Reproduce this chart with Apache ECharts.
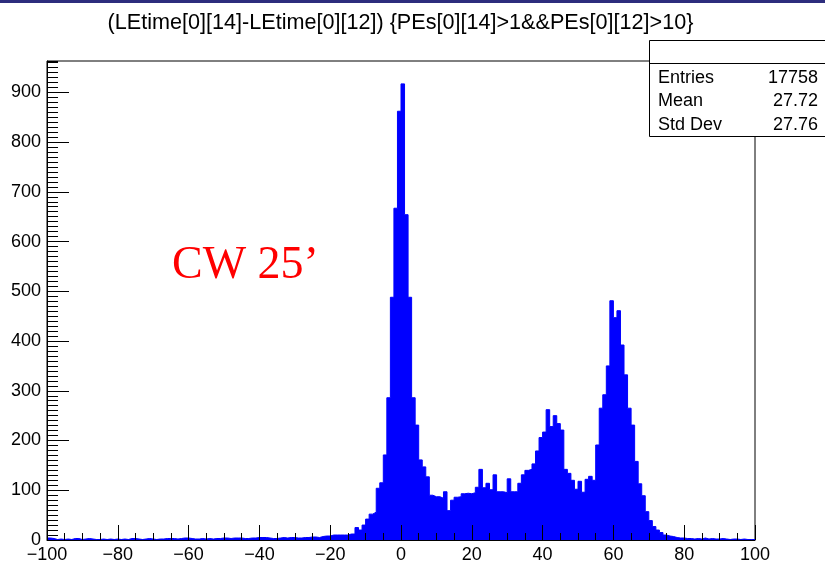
<!DOCTYPE html>
<html>
<head>
<meta charset="utf-8">
<script src="https://cdn.jsdelivr.net/npm/echarts@6/dist/echarts.min.js"></script>
<style>
  html, body { margin: 0; padding: 0; background: #fff; }
  #chart { width: 825px; height: 561px; }
</style>
</head>
<body>
<div id="chart"></div>
<script>
// Histogram of LEtime[0][14]-LEtime[0][12], 1-unit bins from -100 to 100
const histTitle = '(LEtime[0][14]-LEtime[0][12]) {PEs[0][14]>1&&PEs[0][12]>10}';
const binLow = -100;
const binWidth = 1;
const counts = [
  // -100 .. -51
  4, 3, 1, 2, 1, 2, 1, 3, 3, 1,
  2, 3, 2, 1, 1, 2, 1, 2, 1, 2,
  1, 2, 1, 3, 3, 2, 1, 2, 3, 2,
  1, 2, 2, 3, 3, 3, 2, 3, 4, 4,
  3, 2, 2, 3, 2, 3, 2, 3, 3, 4,
  // -50 .. -1
  4, 3, 4, 4, 4, 3, 3, 4, 4, 5,
  5, 5, 4, 3, 3, 4, 5, 4, 5, 5,
  4, 4, 5, 5, 6, 6, 5, 7, 8, 8,
  10, 10, 10, 10, 10, 12, 12, 25, 20, 30,
  42, 52, 56, 104, 115, 171, 286, 488, 667, 862,
  // 0 .. 49
  917, 654, 488, 286, 231, 161, 147, 127, 90, 87,
  87, 84, 97, 59, 80, 86, 87, 93, 94, 93,
  95, 106, 142, 105, 114, 101, 131, 97, 97, 95,
  123, 97, 97, 114, 131, 140, 142, 153, 179, 206,
  217, 262, 228, 250, 234, 221, 142, 134, 120, 102,
  // 50 .. 99
  118, 96, 122, 128, 120, 191, 265, 292, 350, 481,
  447, 461, 392, 332, 265, 231, 158, 113, 89, 57,
  39, 27, 20, 15, 10, 8, 7, 5, 4, 4,
  3, 3, 2, 3, 2, 4, 2, 3, 2, 2,
  3, 2, 1, 2, 2, 1, 2, 1, 1, 1
];
const xMin = -100, xMax = 100, xStep = 20;
const yMin = 0, yMax = 963, yStep = 100, yMinorStep = 10;
const statLabels = ['Entries', 'Mean', 'Std Dev'];
const statValues = ['17758', '27.72', '27.76'];
const note = 'CW 25\u2019';

// Step outline: one point per bin low edge plus the closing upper edge
const stepData = counts.map((c, i) => [binLow + i * binWidth, c]);
stepData.push([binLow + counts.length * binWidth, counts[counts.length - 1]]);

const sans = '"Liberation Sans", Arial, Helvetica, sans-serif';
const ink = '#000';
const fill = '#0000ff';

const chart = echarts.init(document.getElementById('chart'), null, { renderer: 'canvas' });

const gridBox = { left: 47, top: 61, right: 70, bottom: 21 };

chart.setOption({
  animation: false,
  backgroundColor: '#fff',
  grid: Object.assign({
    show: true, borderColor: ink, borderWidth: 1, backgroundColor: 'transparent',
    containLabel: false, outerBoundsMode: 'none'
  }, gridBox),
  xAxis: [{
    type: 'value', min: xMin, max: xMax, interval: xStep, z: 5,
    axisLine: { show: true, onZero: false, lineStyle: { color: ink, width: 1 } },
    axisTick: { show: true, inside: true, length: 15, lineStyle: { color: ink, width: 1 } },
    minorTick: { show: true, splitNumber: 4, length: 7, lineStyle: { color: ink, width: 1 } },
    splitLine: { show: false },
    axisLabel: {
      color: ink, fontFamily: sans, fontSize: 18, margin: 6,
      formatter: v => String(v).replace('-', '\u2212')
    }
  }],
  yAxis: [{
    type: 'value', min: yMin, max: yMax, interval: yStep, position: 'left', z: 5,
    axisLine: { show: true, onZero: false, lineStyle: { color: ink, width: 1 } },
    axisTick: { show: true, inside: true, length: 22, lineStyle: { color: ink, width: 1 } },
    splitLine: { show: false },
    axisLabel: { color: ink, fontFamily: sans, fontSize: 18, margin: 6, showMaxLabel: false }
  }, {
    type: 'value', min: yMin, max: yMax, interval: yMinorStep, position: 'left', offset: 0, z: 5,
    axisLine: { show: false, onZero: false },
    axisTick: { show: true, inside: true, length: 11, lineStyle: { color: ink, width: 1 } },
    splitLine: { show: false },
    axisLabel: { show: false }
  }],
  series: [{
    type: 'line', step: 'end', xAxisIndex: 0, yAxisIndex: 0,
    data: stepData, symbol: 'none', z: 2,
    lineStyle: { color: fill, width: 1 },
    areaStyle: { color: fill, opacity: 1 }
  }],
  graphic: [
    { type: 'rect', left: 0, top: 0, z: 20, shape: { width: 825, height: 3 }, style: { fill: '#2d2d7d' } },
    { type: 'text', x: 400.5, y: 23, z: 20, style: {
        text: histTitle, fill: ink, font: '21.6px ' + sans, textAlign: 'center', textVerticalAlign: 'middle' } },
    { type: 'text', x: 172, y: 289, z: 20, style: {
        text: note, fill: '#ff0000', font: '46px "Liberation Serif", "Times New Roman", serif',
        textAlign: 'left', textVerticalAlign: 'bottom' } },
    // statistics box
    { type: 'rect', z: 20, shape: { x: 649.5, y: 40.5, width: 200, height: 96 },
      style: { fill: '#fff', stroke: ink, lineWidth: 1 } },
    { type: 'line', z: 21, shape: { x1: 649.5, y1: 63.5, x2: 825, y2: 63.5 },
      style: { stroke: ink, lineWidth: 1 } },
    ...statLabels.map((t, i) => ({ type: 'text', z: 21, x: 658, y: 78 + i * 23.5, style: {
        text: t, fill: ink, font: '18px ' + sans, textAlign: 'left', textVerticalAlign: 'middle' } })),
    ...statValues.map((t, i) => ({ type: 'text', z: 21, x: 818, y: 78 + i * 23.5, style: {
        text: t, fill: ink, font: '18px ' + sans, textAlign: 'right', textVerticalAlign: 'middle' } }))
  ]
});
</script>
</body>
</html>
